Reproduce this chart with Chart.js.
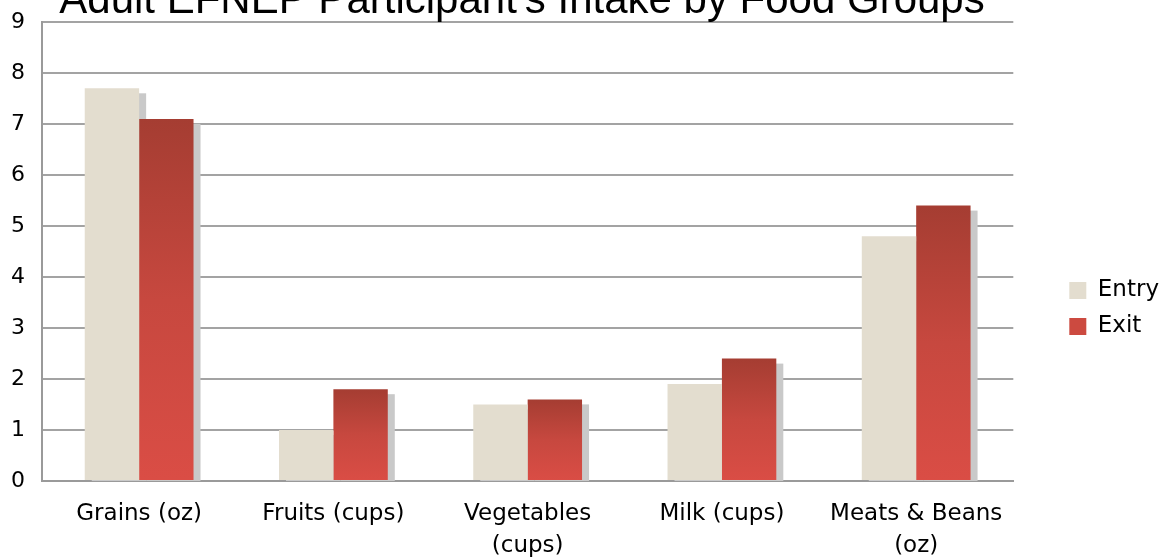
<!DOCTYPE html>
<html>
<head>
<meta charset="utf-8">
<script src="https://cdn.jsdelivr.net/npm/chart.js@4/dist/chart.umd.min.js"></script>
<style>
  html, body { margin: 0; padding: 0; background: #fff; }
  #wrap { width: 1162px; height: 559px; }
</style>
</head>
<body>
<div id="wrap"><canvas id="intakeChart"></canvas></div>
<script>
const titleText = "Adult EFNEP Participant's Intake by Food Groups";
const categories = ['Grains (oz)', 'Fruits (cups)', ['Vegetables', '(cups)'], 'Milk (cups)', ['Meats & Beans', '(oz)']];
const entryValues = [7.7, 1.0, 1.5, 1.9, 4.8];
const exitValues = [7.1, 1.8, 1.6, 2.4, 5.4];
const yTicks = [0, 1, 2, 3, 4, 5, 6, 7, 8, 9];

// exit bars: dark red at the top fading to a lighter red at the base
function exitGradient(context) {
    const chart = context.chart;
    const area = chart.chartArea;
    if (!area || context.type !== 'data') return '#c4463d';
    const y = chart.scales.y;
    const top = y.getPixelForValue(context.raw);
    const bottom = y.getPixelForValue(0);
    const g = chart.ctx.createLinearGradient(0, top, 0, bottom);
    g.addColorStop(0, '#a53d32');
    g.addColorStop(0.5, '#c7483f');
    g.addColorStop(1, '#da4d45');
    return g;
}

// flat grey drop shadow behind every bar, drawn before any bar so the
// exit bar covers the entry bar's shadow
const barShadow = {
    id: 'barShadow',
    beforeDatasetsDraw(chart) {
        const ctx = chart.ctx;
        const area = chart.chartArea;
        ctx.save();
        ctx.beginPath();
        ctx.rect(area.left, area.top, area.right - area.left, area.bottom - area.top);
        ctx.clip();
        ctx.fillStyle = '#c9c9c9';
        chart.data.datasets.forEach((ds, i) => {
            chart.getDatasetMeta(i).data.forEach(bar => {
                const p = bar.getProps(['x', 'y', 'base', 'width'], true);
                ctx.fillRect(p.x - p.width / 2 + 7, p.y + 5, p.width, p.base - p.y);
            });
        });
        ctx.restore();
    }
};

// title sits partly above the top edge of the picture
const topTitle = {
    id: 'topTitle',
    afterDraw(chart) {
        const ctx = chart.ctx;
        ctx.save();
        ctx.font = '42px "Liberation Sans", Arial, sans-serif';
        ctx.fillStyle = '#000';
        ctx.textAlign = 'center';
        ctx.textBaseline = 'alphabetic';
        ctx.fillText(titleText, 522, 13);
        ctx.restore();
    }
};

// move the legend a bit away from the plot and lower down
const legendShift = {
    id: 'legendShift',
    afterLayout(chart) {
        const lg = chart.legend;
        lg.left += 43; lg.right += 43;
        lg.top += 18; lg.bottom += 18;
    }
};

const ctx = document.getElementById('intakeChart').getContext('2d');
const intakeChart = new Chart(ctx, {
    type: 'bar',
    data: {
        labels: categories,
        datasets: [{
            label: 'Entry',
            data: entryValues,
            backgroundColor: '#e3ddcf',
            borderWidth: 0
        }, {
            label: 'Exit',
            data: exitValues,
            backgroundColor: exitGradient,
            borderWidth: 0
        }]
    },
    options: {
        responsive: true,
        maintainAspectRatio: false,
        animation: false,
        devicePixelRatio: 1,
        layout: { padding: { top: 22, right: 36, left: 0, bottom: 0 } },
        datasets: {
            bar: { barPercentage: 1, categoryPercentage: 0.56 }
        },
        plugins: {
            legend: {
                position: 'right',
                align: 'center',
                labels: {
                    font: { family: '"DejaVu Sans", sans-serif', size: 23 },
                    color: '#000',
                    boxWidth: 17,
                    boxHeight: 17,
                    padding: 13,
                    generateLabels(chart) {
                        return [
                            { text: 'Entry', fillStyle: '#e3ddcf', strokeStyle: '#e3ddcf', lineWidth: 0, datasetIndex: 0 },
                            { text: 'Exit', fillStyle: '#cc4a40', strokeStyle: '#cc4a40', lineWidth: 0, datasetIndex: 1 }
                        ];
                    }
                }
            },
            tooltip: { enabled: false },
            title: { display: false }
        },
        scales: {
            x: {
                grid: { display: false, drawTicks: false },
                border: { display: true, color: '#9a9a9a', width: 2 },
                ticks: {
                    color: '#000',
                    font: { family: '"DejaVu Sans", sans-serif', size: 23, lineHeight: 1.35 },
                    padding: 18,
                    maxRotation: 0,
                    autoSkip: false
                },
                afterFit(scale) {
                    scale.height = 78;
                    scale.paddingLeft = 0;
                    scale.paddingRight = 0;
                }
            },
            y: {
                min: 0,
                max: 9,
                afterBuildTicks(scale) {
                    scale.ticks = yTicks.map(v => ({ value: v }));
                },
                afterFit(scale) {
                    scale.width = 42;
                    scale.paddingTop = 0;
                    scale.paddingBottom = 0;
                },
                grid: { color: '#a3a3a3', lineWidth: 2, drawTicks: false },
                border: { display: true, color: '#9a9a9a', width: 2 },
                ticks: {
                    color: '#000',
                    font: { family: '"DejaVu Sans", sans-serif', size: 22 },
                    padding: 17
                }
            }
        }
    },
    plugins: [barShadow, topTitle, legendShift]
});
</script>
</body>
</html>
